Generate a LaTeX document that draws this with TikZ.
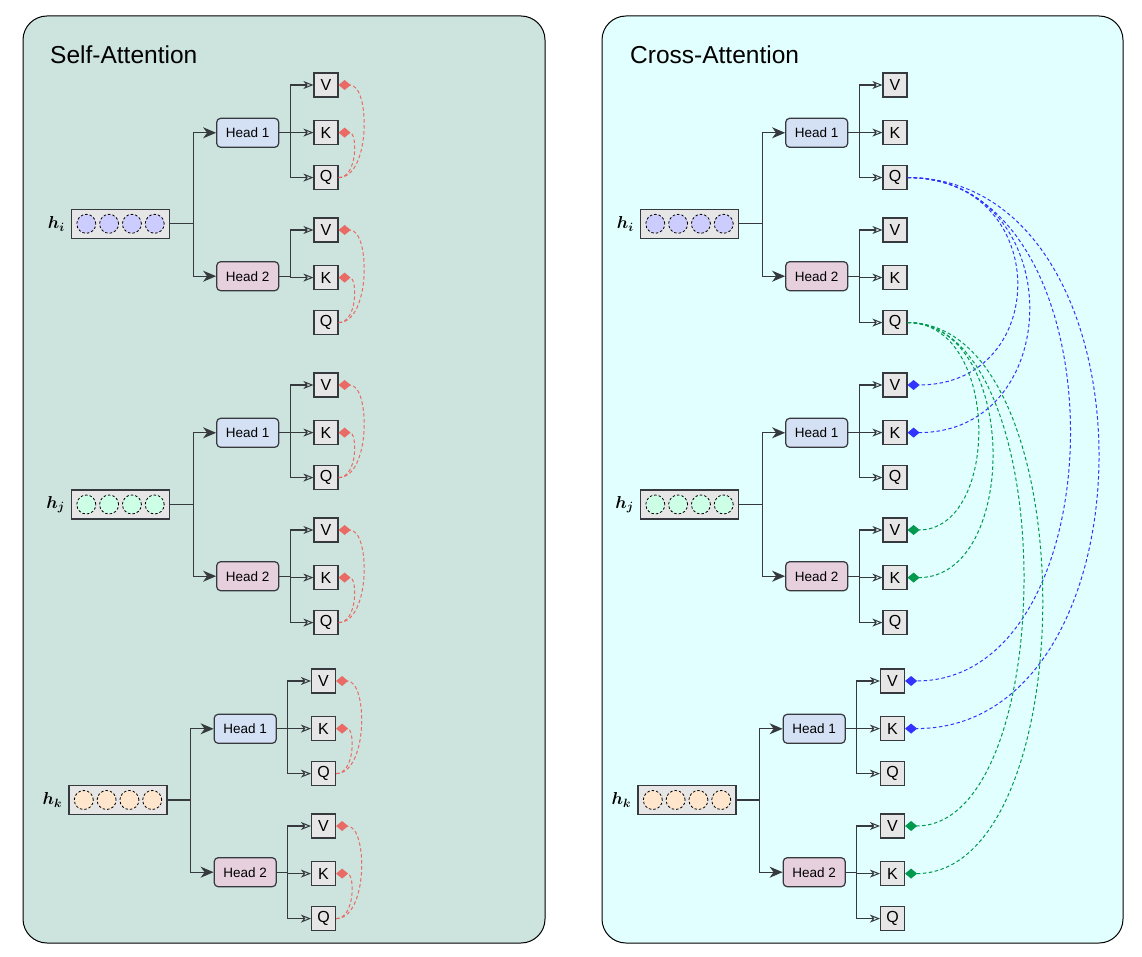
\documentclass[tikz,border=0pt]{standalone}
\usepackage{fontspec}
\setmainfont{Liberation Sans}
\usetikzlibrary{arrows.meta,positioning}
\definecolor{selfbg}{HTML}{CCE3DE}
\definecolor{crossbg}{HTML}{E0FFFE}
\definecolor{headone}{HTML}{D4E1F5}
\definecolor{headtwo}{HTML}{E6D0DE}
\definecolor{boxgray}{HTML}{E6E6E6}
\definecolor{linegray}{HTML}{36393D}
\definecolor{hicol}{HTML}{CCCCFF}
\definecolor{hjcol}{HTML}{CCFFE6}
\definecolor{hkcol}{HTML}{FFE6CC}
\definecolor{selfred}{HTML}{EA6B66}
\definecolor{crossblue}{HTML}{3333FF}
\definecolor{crossgreen}{HTML}{00994D}
\tikzset{
  panel/.style={draw=black, line width=1pt, rounded corners=24pt},
  title/.style={anchor=base west, inner sep=0pt, font=\fontsize{24.5}{28}\selectfont},
  hvec/.style={draw=linegray, line width=1.2pt, fill=boxgray, minimum width=98pt, minimum height=29pt, inner sep=0pt},
  unit/.style={circle, draw=black, dash pattern=on 2.5pt off 2pt, line width=0.8pt, minimum size=19pt, inner sep=0pt},
  hlabel/.style={inner sep=0pt, font=\fontsize{18}{20}\selectfont\boldmath},
  head/.style={draw=linegray, line width=1.2pt, rounded corners=4pt, minimum width=62pt, minimum height=29pt, inner sep=0pt, font=\fontsize{13.5}{15}\selectfont},
  qkv/.style={draw=linegray, line width=1.2pt, fill=boxgray, minimum size=24pt, inner sep=0pt, font=\fontsize{16}{18}\selectfont},
  feed/.style={draw=linegray, line width=1.2pt, -{Stealth[length=13pt,width=11pt,inset=4pt]}},
  split/.style={draw=linegray, line width=1.2pt, -{Stealth[open,length=10pt,width=8pt,inset=3pt,line width=1pt]}},
  attn/.style={dash pattern=on 3.5pt off 2.5pt, line width=1pt, -{Diamond[length=12pt,width=10pt]}},
}
\begin{document}
\begin{tikzpicture}[x=1pt,y=-1pt]
\useasboundingbox (0,0) rectangle (1142,957);
\draw[panel, fill=selfbg] (23,16) rectangle (545,943);
\draw[panel, fill=crossbg] (602,16) rectangle (1123,943);
\node[title] (selftitle) at (50,64) {Self-Attention};
\node[title] (crosstitle) at (630,64) {Cross-Attention};

% token vectors, heads and V/K/Q boxes
\foreach \p/\px in {L/0,R/569}{
  \foreach \g/\gx/\gy/\hy/\col in {i/0/0/223.8/hicol, j/0/300/504.5/hjcol, k/-2.5/596/800/hkcol}{
    \node[hvec] (\p\g) at (120.5+\px+\gx,\hy) {};
    \foreach \c in {1,...,4}
      \node[unit, fill=\col] (\p\g c\c) at ([xshift={(\c-2.5)*22.8pt}]\p\g.center) {};
    \node[hlabel, left=6pt of \p\g] (\p\g lab) {$h_\g$};
    \foreach \n/\ny/\vy/\hf in {1/132.8/85/headone, 2/276.2/230/headtwo}{
      \node[head, fill=\hf] (\p\g\n) at (247.7+\px+\gx,\ny+\gy) {Head \n};
      \node[qkv] (\p\g\n V) at (326+\px+\gx,\vy+\gy) {V};
      \node[qkv] (\p\g\n K) at (326+\px+\gx,\vy+\gy+47.6) {K};
      \node[qkv] (\p\g\n Q) at (326+\px+\gx,\vy+\gy+92.6) {Q};
      \draw[feed] (\p\g.east) -- +(23,0) |- (\p\g\n.west);
      \draw[split] (\p\g\n.east) -- +(11,0) |- (\p\g\n V.west);
      \draw[split] (\p\g\n.east) -- +(11,0) |- (\p\g\n K.west);
    }
  }
}
\foreach \hd in {Li1,Lj1,Lj2,Lk1,Lk2,Ri1,Ri2,Rj1,Rj2,Rk1,Rk2}
  \draw[split] (\hd.east) -- +(11,0) |- (\hd Q.west);

% self-attention
\foreach \g in {i,j,k}{
  \foreach \n in {1,2}{
    \draw[attn, selfred] (L\g\n Q.east) .. controls +(32,0) and +(32,0) .. (L\g\n V.east);
    \draw[attn, selfred] (L\g\n Q.east) .. controls +(19,0) and +(19,0) .. (L\g\n K.east);
  }
}

% cross-attention
\foreach \t/\a in {Rj1V/145, Rj1K/161, Rk1V/217, Rk1K/255}
  \draw[attn, crossblue] (Ri1Q.east) .. controls +(\a,0) and +(\a,0) .. (\t.east);
\foreach \t/\a in {Rj2V/93, Rj2K/112, Rk2V/155, Rk2K/180}
  \draw[attn, crossgreen] (Ri2Q.east) .. controls +(\a,0) and +(\a,0) .. (\t.east);
\end{tikzpicture}
\end{document}
